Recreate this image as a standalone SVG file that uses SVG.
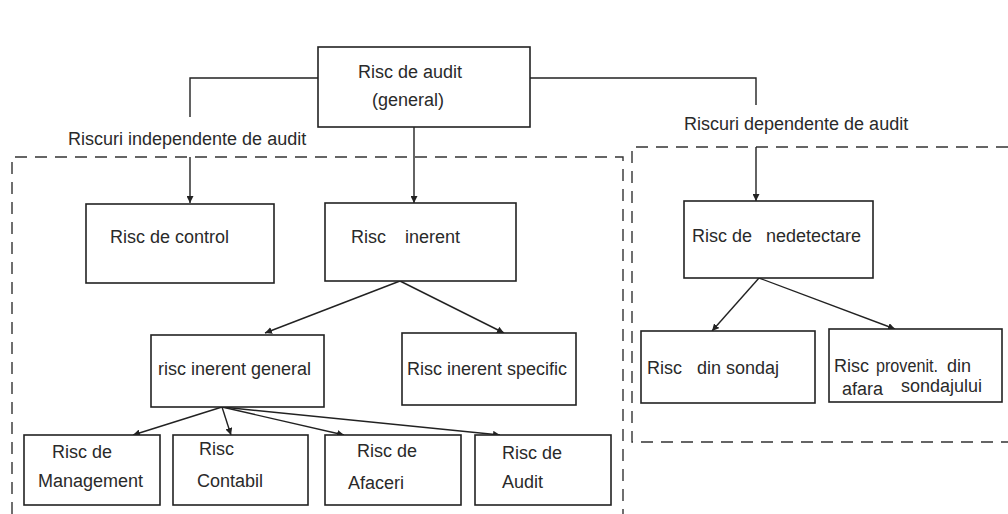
<svg xmlns="http://www.w3.org/2000/svg" width="1008" height="514" viewBox="0 0 1008 514">
<style>
.box{fill:#fff;stroke:#222;stroke-width:1.6}
.t{font-family:"Liberation Sans",Arial,sans-serif;font-size:18px;fill:#2a2a2a}
.ln{fill:none;stroke:#222;stroke-width:1.4}
.ar{fill:none;stroke:#222;stroke-width:1.4;marker-end:url(#ah)}
.dash{fill:none;stroke:#333;stroke-width:1.4;stroke-dasharray:12 8}
</style>
<defs>
<marker id="ah" viewBox="0 0 10 10" refX="10" refY="5" markerWidth="7" markerHeight="7" markerUnits="userSpaceOnUse" orient="auto">
<path d="M0,0 L10,5 L0,10 z" fill="#222"/>
</marker>
</defs>
<rect width="1008" height="514" fill="#fff"/>
<g id="groups">
<path class="dash" d="M12,514 L12,157 L623,157 L623,514"/>
<path class="dash" d="M1008,147 L632,147 L632,442 L1008,442"/>
</g>
<g id="connectors">
<path class="ln" d="M318,78 L190,78 L190,117"/>
<path class="ar" d="M190,157 L190,203"/>
<path class="ar" d="M414,127 L414,203"/>
<path class="ln" d="M530,78 L756,78 L756,105"/>
<path class="ar" d="M756,147 L756,201"/>
<path class="ar" d="M400,281 L265,333"/>
<path class="ar" d="M400,281 L504,333"/>
<path class="ar" d="M759,278 L712,331"/>
<path class="ar" d="M759,278 L895,329"/>
<path class="ar" d="M222,407 L133,435"/>
<path class="ar" d="M222,407 L231,435"/>
<path class="ar" d="M222,407 L344,435"/>
<path class="ar" d="M222,407 L500,435"/>
</g>
<g id="n-audit"><rect class="box" x="318" y="47" width="212" height="80"/><text class="t" x="358" y="78">Risc de audit</text><text class="t" x="372" y="106">(general)</text></g>
<g id="lbl-indep"><text class="t" x="68" y="145">Riscuri independente de audit</text></g>
<g id="lbl-dep"><text class="t" x="684" y="130">Riscuri dependente de audit</text></g>
<g id="n-control"><rect class="box" x="86" y="204" width="188" height="79"/><text class="t" x="110" y="243">Risc de control</text></g>
<g id="n-inerent"><rect class="box" x="325" y="203" width="191" height="78"/><text class="t" x="351" y="243">Risc</text><text class="t" x="405" y="243">inerent</text></g>
<g id="n-nedetectare"><rect class="box" x="684" y="201" width="189" height="77"/><text class="t" x="692" y="242">Risc de</text><text class="t" x="766" y="242">nedetectare</text></g>
<g id="n-general"><rect class="box" x="151" y="335" width="173" height="72"/><text class="t" x="158" y="375">risc inerent general</text></g>
<g id="n-specific"><rect class="box" x="402" y="333" width="174" height="72"/><text class="t" x="407" y="375">Risc inerent specific</text></g>
<g id="n-sondaj"><rect class="box" x="641" y="331" width="174" height="72"/><text class="t" x="647" y="374">Risc</text><text class="t" x="697" y="374">din sondaj</text></g>
<g id="n-afara"><rect class="box" x="829" y="329" width="173" height="73"/><text class="t" x="834" y="372">Risc</text><text class="t" x="876" y="372" textLength="62" lengthAdjust="spacingAndGlyphs">provenit.</text><text class="t" x="947" y="372">din</text><text class="t" x="842" y="395">afara</text><text class="t" x="901" y="392">sondajului</text></g>
<g id="n-management"><rect class="box" x="24" y="435" width="136" height="70"/><text class="t" x="52" y="458">Risc de</text><text class="t" x="38" y="487">Management</text></g>
<g id="n-contabil"><rect class="box" x="173" y="435" width="135" height="70"/><text class="t" x="199" y="455">Risc</text><text class="t" x="197" y="487">Contabil</text></g>
<g id="n-afaceri"><rect class="box" x="325" y="435" width="136" height="70"/><text class="t" x="357" y="457">Risc de</text><text class="t" x="348" y="489">Afaceri</text></g>
<g id="n-auditrisc"><rect class="box" x="475" y="435" width="136" height="70"/><text class="t" x="502" y="459">Risc de</text><text class="t" x="502" y="488">Audit</text></g>
</svg>
